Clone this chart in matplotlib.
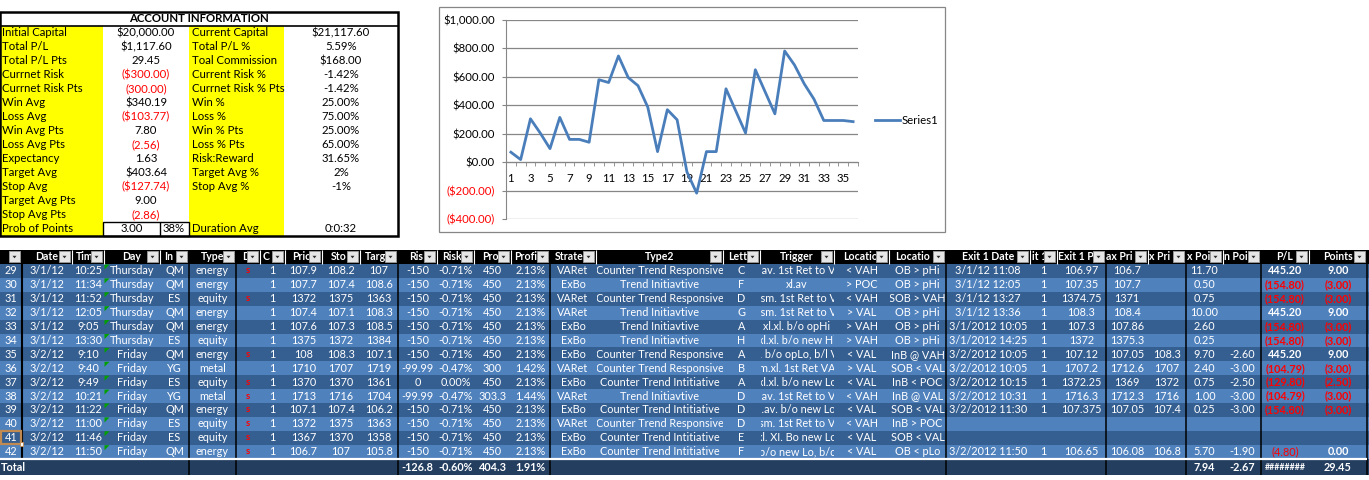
import matplotlib.pyplot as plt
from matplotlib.patches import Rectangle, Polygon
from matplotlib.transforms import Bbox, TransformedBbox

plt.rcParams['font.family'] = ['Lato', 'DejaVu Sans']

# ---------------- account information block
acct_left_labels = ['Initial Capital', 'Total P/L', 'Total P/L Pts', 'Currnet Risk', 'Currnet Risk Pts',
                    'Win Avg', 'Loss Avg', 'Win Avg Pts', 'Loss Avg Pts', 'Expectancy', 'Target Avg',
                    'Stop Avg', 'Target Avg Pts', 'Stop Avg Pts', 'Prob of Points']
acct_left_values = ['$20,000.00', '$1,117.60', '29.45', '($300.00)', '(300.00)', '$340.19', '($103.77)',
                    '7.80', '(2.56)', '1.63', '$403.64', '($127.74)', '9.00', '(2.86)', '3.00']
prob_points_pct = '38%'
acct_right_labels = ['Current Capital', 'Total P/L %', 'Toal Commission', 'Current Risk %',
                     'Currnet Risk % Pts', 'Win %', 'Loss %', 'Win % Pts', 'Loss % Pts', 'Risk:Reward',
                     'Target Avg %', 'Stop Avg %', '', '', 'Duration Avg']
acct_right_values = ['$21,117.60', '5.59%', '$168.00', '-1.42%', '-1.42%', '25.00%', '75.00%', '25.00%',
                     '65.00%', '31.65%', '2%', '-1%', '', '', '0:0:32']

# ---------------- running P/L chart
trade_no = list(range(1, 37))
running_pl = [70, 18, 305, 205, 95, 315, 160, 160, 140, 580, 560, 747, 595, 538, 387, 74, 369, 298,
              -68, -218, 74, 74, 516, 360, 205, 650, 495, 340, 782, 684, 551, 443, 293, 293, 293, 285]

# ---------------- trade log
# header captions as they show in the (narrow) cells
headers = ['', 'Date', 'Tim', 'Day', 'In', 'Type', 'D', 'C', 'Pric', 'Sto', 'Targ', 'Ris', 'Risk', 'Pro',
           'Profi', 'Strate', 'Type2', 'Lett', 'Trigger', 'Locatio', 'Locatio', 'Exit 1 Date', 'it 1',
           'Exit 1 P', 'ax Pri', 'x Pri', 'x Poi', 'n Poi', 'P/L', 'Points']
row_no = ['29', '30', '31', '32', '33', '34', '35', '36', '37', '38', '39', '40', '41', '42']
dates = ['3/1/12', '3/1/12', '3/1/12', '3/1/12', '3/1/12', '3/1/12', '3/2/12', '3/2/12', '3/2/12',
         '3/2/12', '3/2/12', '3/2/12', '3/2/12', '3/2/12']
times = ['10:25', '11:34', '11:52', '12:05', '9:05', '13:30', '9:10', '9:40', '9:49', '10:21', '11:22',
         '11:00', '11:46', '11:50']
days = ['Thursday', 'Thursday', 'Thursday', 'Thursday', 'Thursday', 'Thursday', 'Friday', 'Friday',
        'Friday', 'Friday', 'Friday', 'Friday', 'Friday', 'Friday']
instruments = ['QM', 'QM', 'ES', 'QM', 'QM', 'ES', 'QM', 'YG', 'ES', 'YG', 'QM', 'ES', 'ES', 'QM']
types = ['energy', 'energy', 'equity', 'energy', 'energy', 'equity', 'energy', 'metal', 'equity', 'metal',
         'energy', 'equity', 'equity', 'energy']
direction = ['s', '', 's', '', '', '', 's', '', 's', 's', 's', 's', 's', 's']
contracts = ['1', '1', '1', '1', '1', '1', '1', '1', '1', '1', '1', '1', '1', '1']
price = ['107.9', '107.7', '1372', '107.4', '107.6', '1375', '108', '1710', '1370', '1713', '107.1',
         '1372', '1367', '106.7']
stop = ['108.2', '107.4', '1375', '107.1', '107.3', '1372', '108.3', '1707', '1370', '1716', '107.4',
        '1375', '1370', '107']
target = ['107', '108.6', '1363', '108.3', '108.5', '1384', '107.1', '1719', '1361', '1704', '106.2',
          '1363', '1358', '105.8']
risk = ['-150', '-150', '-150', '-150', '-150', '-150', '-150', '-99.99', '0', '-99.99', '-150', '-150',
        '-150', '-150']
risk_pct = ['-0.71%', '-0.71%', '-0.71%', '-0.71%', '-0.71%', '-0.71%', '-0.71%', '-0.47%', '0.00%',
            '-0.47%', '-0.71%', '-0.71%', '-0.71%', '-0.71%']
profit = ['450', '450', '450', '450', '450', '450', '450', '300', '450', '303.3', '450', '450', '450', '450']
profit_pct = ['2.13%', '2.13%', '2.13%', '2.13%', '2.13%', '2.13%', '2.13%', '1.42%', '2.13%', '1.44%',
              '2.13%', '2.13%', '2.13%', '2.13%']
strategy = ['VARet', 'ExBo', 'VARet', 'VARet', 'ExBo', 'ExBo', 'ExBo', 'VARet', 'ExBo', 'VARet', 'ExBo',
            'VARet', 'ExBo', 'ExBo']
type2 = ['Counter Trend Responsive', 'Trend Initiavtive', 'Counter Trend Responsive', 'Trend Initiavtive',
         'Trend Initiavtive', 'Trend Initiavtive', 'Counter Trend Responsive', 'Counter Trend Responsive',
         'Counter Trend Intitiative', 'Trend Initiavtive', 'Counter Trend Intitiative',
         'Counter Trend Responsive', 'Counter Trend Intitiative', 'Counter Trend Intitiative']
letter = ['C', 'F', 'D', 'G', 'A', 'H', 'A', 'B', 'A', 'D', 'D', 'D', 'E', 'F']
trigger = ['.av. 1st Ret to V', 'xl.av', '.sm. 1st Ret to V', '.sm. 1st Ret to V', 'xl.xl. b/o opHi',
           'xl.xl. b/o new Hi', 'l. b/o opLo, b/l V', 'm.xl. 1st Ret VA', 'xl.xl. b/o new Lo',
           '.av. 1st Ret to V', 'l.av. b/o new Lo', 'sm. 1st Ret to V', 'xl. XI. Bo new Lo',
           'b/o new Lo, b/c']
location = ['< VAH', '> POC', '< VAH', '> VAL', '> VAH', '> VAH', '< VAL', '> VAL', '< VAL', '< VAH',
            '< VAL', '< VAH', '< VAL', '< VAL']
location2 = ['OB > pHi', 'OB > pHi', 'SOB > VAH', 'OB > pHi', 'OB > pHi', 'OB > pHi', 'InB @ VAH',
             'SOB < VAL', 'InB < POC', 'InB @ VAL', 'SOB < VAL', 'InB > POC', 'SOB < VAL', 'OB < pLo']
exit1_date = ['3/1/12 11:08', '3/1/12 12:05', '3/1/12 13:27', '3/1/12 13:36', '3/1/2012 10:05',
              '3/1/2012 14:25', '3/2/2012 10:05', '3/2/2012 10:05', '3/2/2012 10:15', '3/2/2012 10:31',
              '3/2/2012 11:30', '', '', '3/2/2012 11:50']
exit1_cts = ['1', '1', '1', '1', '1', '1', '1', '1', '1', '1', '1', '', '', '1']
exit1_price = ['106.97', '107.35', '1374.75', '108.3', '107.3', '1372', '107.12', '1707.2', '1372.25',
               '1716.3', '107.375', '', '', '106.65']
max_price = ['106.7', '107.7', '1371', '108.4', '107.86', '1375.3', '107.05', '1712.6', '1369', '1712.3',
             '107.05', '', '', '106.08']
min_price = ['', '', '', '', '', '', '108.3', '1707', '1372', '1716', '107.4', '', '', '106.8']
max_points = ['11.70', '0.50', '0.75', '10.00', '2.60', '0.25', '9.70', '2.40', '0.75', '1.00', '0.25',
              '', '', '5.70']
min_points = ['', '', '', '', '', '', '-2.60', '-3.00', '-2.50', '-3.00', '-3.00', '', '', '-1.90']
pl = ['445.20', '(154.80)', '(154.80)', '445.20', '(154.80)', '(154.80)', '445.20', '(104.79)',
      '(129.80)', '(104.79)', '(154.80)', '', '', '(4.80)']
points = ['9.00', '(3.00)', '(3.00)', '9.00', '(3.00)', '(3.00)', '9.00', '(3.00)', '(2.50)', '(3.00)',
          '(3.00)', '', '', '0.00']
totals = ['Total', '', '', '', '', '', '', '', '', '', '', '-126.8', '-0.60%', '404.3', '1.91%', '', '',
          '', '', '', '', '', '', '', '', '', '7.94', '-2.67', '########', '29.45']

columns = [row_no, dates, times, days, instruments, types, direction, contracts, price, stop, target, risk,
           risk_pct, profit, profit_pct, strategy, type2, letter, trigger, location, location2, exit1_date,
           exit1_cts, exit1_price, max_price, min_price, max_points, min_points, pl, points]

# layout (pixels)
W, H = 1369, 480
col_edges = [0, 22, 72, 104, 160, 189, 236, 260, 285, 322, 360, 398, 437, 474, 511, 550, 596, 723, 760,
             834, 889, 946, 1030, 1057, 1106, 1148, 1186, 1223, 1261, 1309, 1367]
# header text start (None = centred in the cell)
hdr_x = [None, None, 76, None, 164, None, 242, 263, 292, 331, 365, 409, 442, 482, 514, 555, None, 728,
         None, 843, 895, None, 1032, 1058, 1106, 1149, 1187, 1224, None, None]
thick_edges = [22, 189, 236, 398, 550, 946, 1106, 1186, 1261, 1367]
hdr_top, hdr_bot = 250, 264
row_h = 13.9
dark_row, light_row, total_bg = '#365F91', '#4F81BD', '#243E60'
RED = '#FF0000'
BODY_FS, HDR_FS = 7.8, 7.6

fig = plt.figure(figsize=(W / 100, H / 100), dpi=100)
ax = fig.add_axes([0, 0, 1, 1])
ax.set_xlim(0, W)
ax.set_ylim(0, H)
ax.axis('off')


def Y(y):
    return H - y


def box(x0, y0, x1, y1, fc, ec='none', lw=0, z=1):
    ax.add_patch(Rectangle((x0, Y(y1)), x1 - x0, y1 - y0, facecolor=fc, edgecolor=ec, lw=lw, zorder=z))


def hline(x0, x1, y, color, lw=1, z=4):
    ax.plot([x0, x1], [Y(y), Y(y)], color=color, lw=lw, zorder=z, solid_capstyle='butt')


def vline(x, y0, y1, color, lw=1, z=4):
    ax.plot([x, x], [Y(y0), Y(y1)], color=color, lw=lw, zorder=z, solid_capstyle='butt')


def cell_text(x, y, s, ha='center', color='white', weight='normal', size=BODY_FS, clip=None, z=3):
    t = ax.text(x, Y(y), s, ha=ha, va='center', color=color, fontweight=weight, fontsize=size, zorder=z)
    if clip is not None:
        x0, x1 = clip
        t.set_clip_box(TransformedBbox(Bbox.from_extents(x0, Y(y + 8), x1, Y(y - 8)), ax.transData))
        t.set_clip_on(True)
    return t


# ---------------- account information
a_top, a_title, a_rh = 12, 26, 14
a_bot = a_title + a_rh * len(acct_left_labels)
box(0, a_top, 398, a_bot, 'white')
box(0, a_title, 103, a_bot, '#FFFF00')
box(189, a_title, 284, a_bot, '#FFFF00')
cell_text(199, (a_top + a_title) / 2, 'ACCOUNT INFORMATION', color='black', weight='bold', size=8.2)
for i in range(len(acct_left_labels)):
    yc = a_title + a_rh * i + a_rh / 2
    cell_text(2, yc, acct_left_labels[i], ha='left', color='black', size=8.2)
    v = acct_left_values[i]
    col = RED if v.startswith('(') else 'black'
    if i == len(acct_left_labels) - 1:
        cell_text(131.5, yc, v, color=col, size=8.2)
        cell_text(174, yc, prob_points_pct, color='black', size=8.2)
    else:
        cell_text(146, yc, v, color=col, size=8.2)
    cell_text(192, yc, acct_right_labels[i], ha='left', color='black', size=8.2)
    cell_text(341, yc, acct_right_values[i], color='black', size=8.2)
last_top = a_bot - a_rh
box(103, last_top, 189, a_bot, 'none', ec='black', lw=1, z=4)
vline(160, last_top, a_bot, 'black', lw=1)
hline(0, 398, a_title, 'black', lw=1.2)
box(0, a_top, 398, a_bot, 'none', ec='black', lw=1.8, z=5)

# ---------------- chart
box(439, 7, 945, 232, 'white', ec='#868686', lw=0.9)
cx = fig.add_axes([506 / W, 1 - 219 / H, 352 / W, 199 / H])
cx.patch.set_alpha(0)
cx.plot(trade_no, running_pl, color='#4A7EBB', lw=2, label='Series1', zorder=3)
cx.set_xlim(0.5, 36.5)
cx.set_ylim(-400, 1000)
yt = list(range(-400, 1001, 200))


def money(v):
    return f'${v:,.2f}' if v >= 0 else f'(${-v:,.2f})'


cx.set_yticks(yt, labels=[money(v) for v in yt])
for lbl, v in zip(cx.get_yticklabels(), yt):
    lbl.set_color(RED if v < 0 else 'black')
cx.yaxis.grid(True, color='#868686', lw=0.9)
cx.set_axisbelow(True)
for s in ['top', 'right']:
    cx.spines[s].set_visible(False)
cx.spines['bottom'].set_position(('data', 0))
cx.spines['bottom'].set_color('#868686')
cx.spines['left'].set_color('#868686')
cx.set_xticks(trade_no[::2])
cx.set_xticks([i + 0.5 for i in range(0, 37)], minor=True)
cx.tick_params(axis='x', which='major', length=0, pad=7.5, labelsize=8.2)
cx.tick_params(axis='x', which='minor', length=3, direction='out', color='#868686')
cx.tick_params(axis='y', length=3, direction='out', color='#868686', labelsize=8.2, pad=5)
cx.legend(loc='center left', bbox_to_anchor=(1.048, 0.497), frameon=False, handlelength=2.2,
          handletextpad=0.15, borderpad=0, borderaxespad=0, fontsize=8.2)

# ---------------- trade log
n = len(row_no)
row_tops = [hdr_bot + row_h * i for i in range(n)]
tot_top = hdr_bot + row_h * n + 1
tot_bot = tot_top + 15

box(0, hdr_top, W, hdr_bot, 'black')
for i in range(n):
    box(0, row_tops[i], W, row_tops[i] + row_h, dark_row if i % 2 == 0 else light_row)
box(0, hdr_bot + row_h * n, W, tot_bot, total_bg)
hline(0, 1367, hdr_bot + row_h * n + 0.5, 'white', lw=1.6, z=5)

# header cells
yh = (hdr_top + hdr_bot) / 2
for c, name in enumerate(headers):
    x0, x1 = col_edges[c], col_edges[c + 1]
    bx = x1 - 13
    if name:
        if hdr_x[c] is None:
            cell_text((x0 + x1) / 2, yh, name, weight='bold', size=HDR_FS, clip=(x0, bx))
        else:
            cell_text(hdr_x[c], yh, name, ha='left', weight='bold', size=HDR_FS, clip=(x0, bx))
    box(bx, hdr_top + 1, bx + 11, hdr_bot - 2, '#E6E6E6', ec='#9C9C9C', lw=0.6, z=6)
    ax.add_patch(Polygon([[bx + 3.5, Y(yh - 1.2)], [bx + 7.5, Y(yh - 1.2)], [bx + 5.5, Y(yh + 1.3)]],
                         closed=True, facecolor='#2B2B2B', edgecolor='none', zorder=7))
    if x0 > 0 and x0 not in thick_edges:
        vline(x0 - 0.3, hdr_top, hdr_bot, 'white', lw=0.8, z=5)

# body cells
for c, values in enumerate(columns):
    x0, x1 = col_edges[c], col_edges[c + 1]
    xc = (x0 + x1) / 2
    for i, v in enumerate(values):
        if v == '':
            continue
        yc = row_tops[i] + row_h / 2
        if c == 6:
            cell_text(xc, yc, v, color=RED, weight='bold', size=7)
            continue
        col = RED if v.startswith('(') else 'white'
        wt = 'bold' if (c == 28 and i != n - 1) or c == 29 else 'normal'
        cell_text(xc, yc, v, color=col, weight=wt, clip=(x0 + 0.5, x1 - 0.5))

# green error-indicator triangles in the Day column
for i in range(n):
    t = row_tops[i]
    ax.add_patch(Polygon([[104.5, Y(t + 0.5)], [109.5, Y(t + 0.5)], [104.5, Y(t + 5.5)]], closed=True,
                         facecolor='#00A000', edgecolor='none', zorder=4))

# totals row
yc = (tot_top + tot_bot) / 2
for c, v in enumerate(totals):
    if v == '':
        continue
    if c == 0:
        cell_text(1, yc, v, ha='left', weight='bold')
    elif v.startswith('#'):
        cell_text((col_edges[c] + col_edges[c + 1]) / 2, yc, v, weight='bold', size=6.3)
    else:
        cell_text((col_edges[c] + col_edges[c + 1]) / 2, yc, v, weight='bold')

# black column separators through body and totals
for x in thick_edges:
    if x == 22:
        vline(x, hdr_bot, hdr_bot + row_h * n, 'black', lw=1.5)
    else:
        vline(x, hdr_bot, tot_bot, 'black', lw=1.1)

# active cell
sel_top = row_tops[12]
box(0.8, sel_top + 0.5, 21, sel_top + row_h - 0.5, 'none', ec='#C08A50', lw=1.6, z=8)
box(19.5, sel_top + row_h - 2.5, 23, sel_top + row_h + 1, '#FFFFFF', ec='#C08A50', lw=0.6, z=9)

fig.savefig('out.png', dpi=100)
